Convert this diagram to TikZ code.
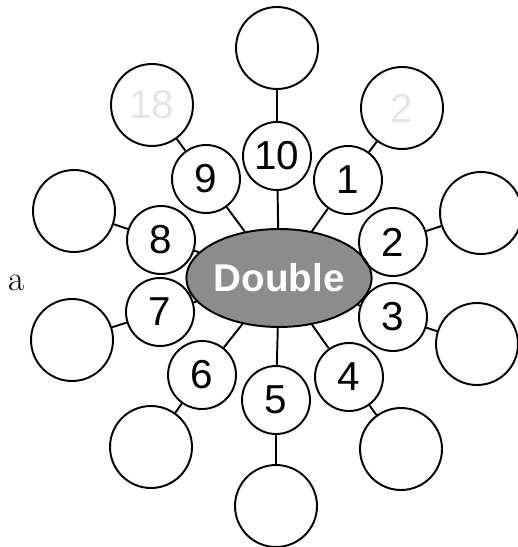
\documentclass[tikz,border=0pt]{standalone}
\usepackage{fontspec}
\setsansfont{Liberation Sans}
\usepackage{tikz}
\usetikzlibrary{positioning, shapes.geometric}

\begin{document}
\begin{tikzpicture}[
			x=0.02cm, y=-0.02cm,
			number/.style={circle, draw, line width=1.1pt, minimum size=1.36cm, inner sep=0pt, font=\sffamily\fontsize{23}{23}\selectfont},
			answer/.style={circle, draw, line width=1.1pt, minimum size=1.64cm, inner sep=0pt, font=\sffamily\fontsize{23}{23}\selectfont, text=black!10},
			hub/.style={ellipse, draw, line width=1.1pt, fill=black!45, minimum width=3.1cm, minimum height=1.96cm, inner sep=0pt, text=white, font=\sffamily\bfseries\fontsize{22}{22}\selectfont},
			link/.style={line width=1.1pt}
			]
			\useasboundingbox (0,0) rectangle (517,547);
			
			% Centre
			\node[hub] (double) at (279,278) {Double};
			\node[font=\fontsize{20}{20}\selectfont] (letter) at (17,283) {a};
			
			% Numbers
			\node[number] (n10) at (277,156) {10};
			\node[number] (n1) at (348,180) {1};
			\node[number] (n2) at (393,242) {2};
			\node[number] (n3) at (393,317) {3};
			\node[number] (n4) at (349,377) {4};
			\node[number] (n5) at (276,400) {5};
			\node[number] (n6) at (202,375) {6};
			\node[number] (n7) at (160,312) {7};
			\node[number] (n8) at (161,240) {8};
			\node[number] (n9) at (206,179) {9};
			
			% Answers
			\node[answer] (a10) at (277,48) {};
			\node[answer] (a1) at (402,108) {2};
			\node[answer] (a2) at (481,213) {};
			\node[answer] (a3) at (477,344) {};
			\node[answer] (a4) at (401,449) {};
			\node[answer] (a5) at (276,506) {};
			\node[answer] (a6) at (151,447) {};
			\node[answer] (a7) at (72,340) {};
			\node[answer] (a8) at (74,211) {};
			\node[answer] (a9) at (152,105) {18};
			
			% Lines
			\draw[link] (double) -- (n10);
			\draw[link] (double) -- (n1);
			\draw[link] (double) -- (n2);
			\draw[link] (double) -- (n3);
			\draw[link] (double) -- (n4);
			\draw[link] (double) -- (n5);
			\draw[link] (double) -- (n6);
			\draw[link] (double) -- (n7);
			\draw[link] (double) -- (n8);
			\draw[link] (double) -- (n9);
			
			\draw[link] (n10) -- (a10);
			\draw[link] (n1) -- (a1);
			\draw[link] (n2) -- (a2);
			\draw[link] (n3) -- (a3);
			\draw[link] (n4) -- (a4);
			\draw[link] (n5) -- (a5);
			\draw[link] (n6) -- (a6);
			\draw[link] (n7) -- (a7);
			\draw[link] (n8) -- (a8);
			\draw[link] (n9) -- (a9);
			
		\end{tikzpicture}
\end{document}
